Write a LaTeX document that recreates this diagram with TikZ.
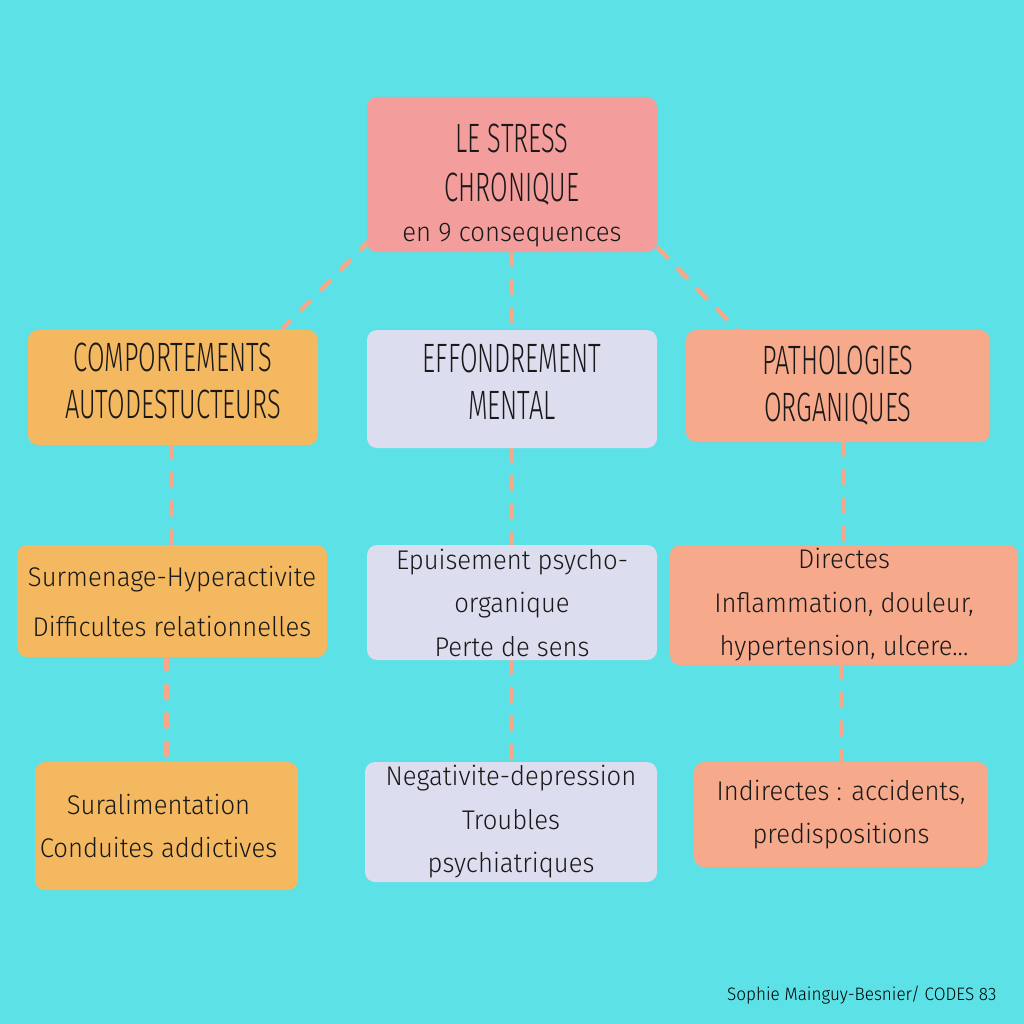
\documentclass[tikz,border=0pt]{standalone}
\usepackage{fontspec}
\setmainfont{Fira Sans Light}
\newfontfamily\capsfont[FakeStretch=0.62]{Fira Sans Light}
\newfontfamily\handfont[FakeStretch=0.95]{Fira Sans Light}
\usetikzlibrary{positioning}

\definecolor{sky}{HTML}{5CE1E6}
\definecolor{rose}{HTML}{F49D9D}
\definecolor{amber}{HTML}{F4B960}
\definecolor{lilac}{HTML}{DCDDEE}
\definecolor{peach}{HTML}{F7A98B}
\definecolor{dashc}{HTML}{F6A88A}

\pgfdeclarelayer{bg}
\pgfdeclarelayer{wires}
\pgfsetlayers{bg,wires,main}

\begin{document}
\begin{tikzpicture}[
  x=1pt, y=-1pt,
  box/.style={rounded corners=10pt, align=center, inner sep=0pt, text=black!90},
  title/.style={box, font=\capsfont\fontsize{41}{47}\selectfont},
  item/.style={box, font=\handfont\fontsize{27}{43.5}\selectfont},
  link/.style={draw=dashc, line width=4.5pt, line cap=round, dash pattern=on 12.5pt off 16pt}
]
\useasboundingbox (0,0) rectangle (1024,1024);

% top
\node[title, fill=rose, minimum width=290, minimum height=155, font=\capsfont\fontsize{41}{49}\selectfont] (stress) at (512,174.5)
  {\rule{0pt}{50pt}LE STRESS\\CHRONIQUE\\[-9pt]{\handfont\fontsize{27}{40}\selectfont en 9 consequences}};

% three families
\node[title, fill=amber, minimum width=290, minimum height=115] (comp) at (173,387.5)
  {COMPORTEMENTS\\AUTODESTUCTEURS\rule[-14pt]{0pt}{0pt}};
\node[title, fill=lilac, minimum width=290, minimum height=118] (effond) at (512,389)
  {EFFONDREMENT\\MENTAL\rule[-14pt]{0pt}{0pt}};
\node[title, fill=peach, minimum width=304, minimum height=112] (patho) at (838,386)
  {PATHOLOGIES\\ORGANIQUES};

% second row
\node[item, fill=amber, minimum width=310, minimum height=112, font=\handfont\fontsize{27}{50}\selectfont] (surm) at (172,601)
  {Surmenage-Hyperactivite\\Difficultes relationnelles};
\node[item, fill=lilac, minimum width=290, minimum height=115] (epuis) at (512,602.5)
  {Epuisement psycho-\\organique\\Perte de sens};
\node[item, fill=peach, minimum width=348, minimum height=120] (dir) at (844,605)
  {Directes\\Inflammation, douleur,\\hypertension, ulcere...};

% third row
\node[item, fill=amber, minimum width=263, minimum height=128] (sural) at (166.5,826)
  {Suralimentation\hspace*{16pt}\\Conduites addictives\hspace*{16pt}};
\node[item, fill=lilac, minimum width=292, minimum height=120] (negat) at (511,822)
  {Negativite-depression\\Troubles\\psychiatriques};
\node[item, fill=peach, minimum width=294, minimum height=105] (indir) at (841,814.5)
  {Indirectes : accidents,\\predispositions};

\node[font=\handfont\fontsize{18}{22}\selectfont, anchor=east] (credit) at (1000,995)
  {Sophie Mainguy-Besnier/ CODES 83};

\begin{pgfonlayer}{bg}
  \fill[sky] (0,0) rectangle (1024,1024);
\end{pgfonlayer}

\begin{pgfonlayer}{wires}
  \draw[link] ([xshift=3pt,yshift=12pt]stress.south west) -- ([xshift=-35pt,yshift=2pt]comp.north east);
  \draw[link] (stress.south) -- (effond.north);
  \draw[link] ([xshift=1pt,yshift=4pt]stress.south east) -- ([xshift=54pt,yshift=-3pt]patho.north west);
  \foreach \a/\b in {comp/surm, surm/sural, effond/epuis, epuis/negat, patho/dir, dir/indir}
    \draw[link] (\a.south -| \b.north) -- (\b.north);
\end{pgfonlayer}
\end{tikzpicture}
\end{document}
